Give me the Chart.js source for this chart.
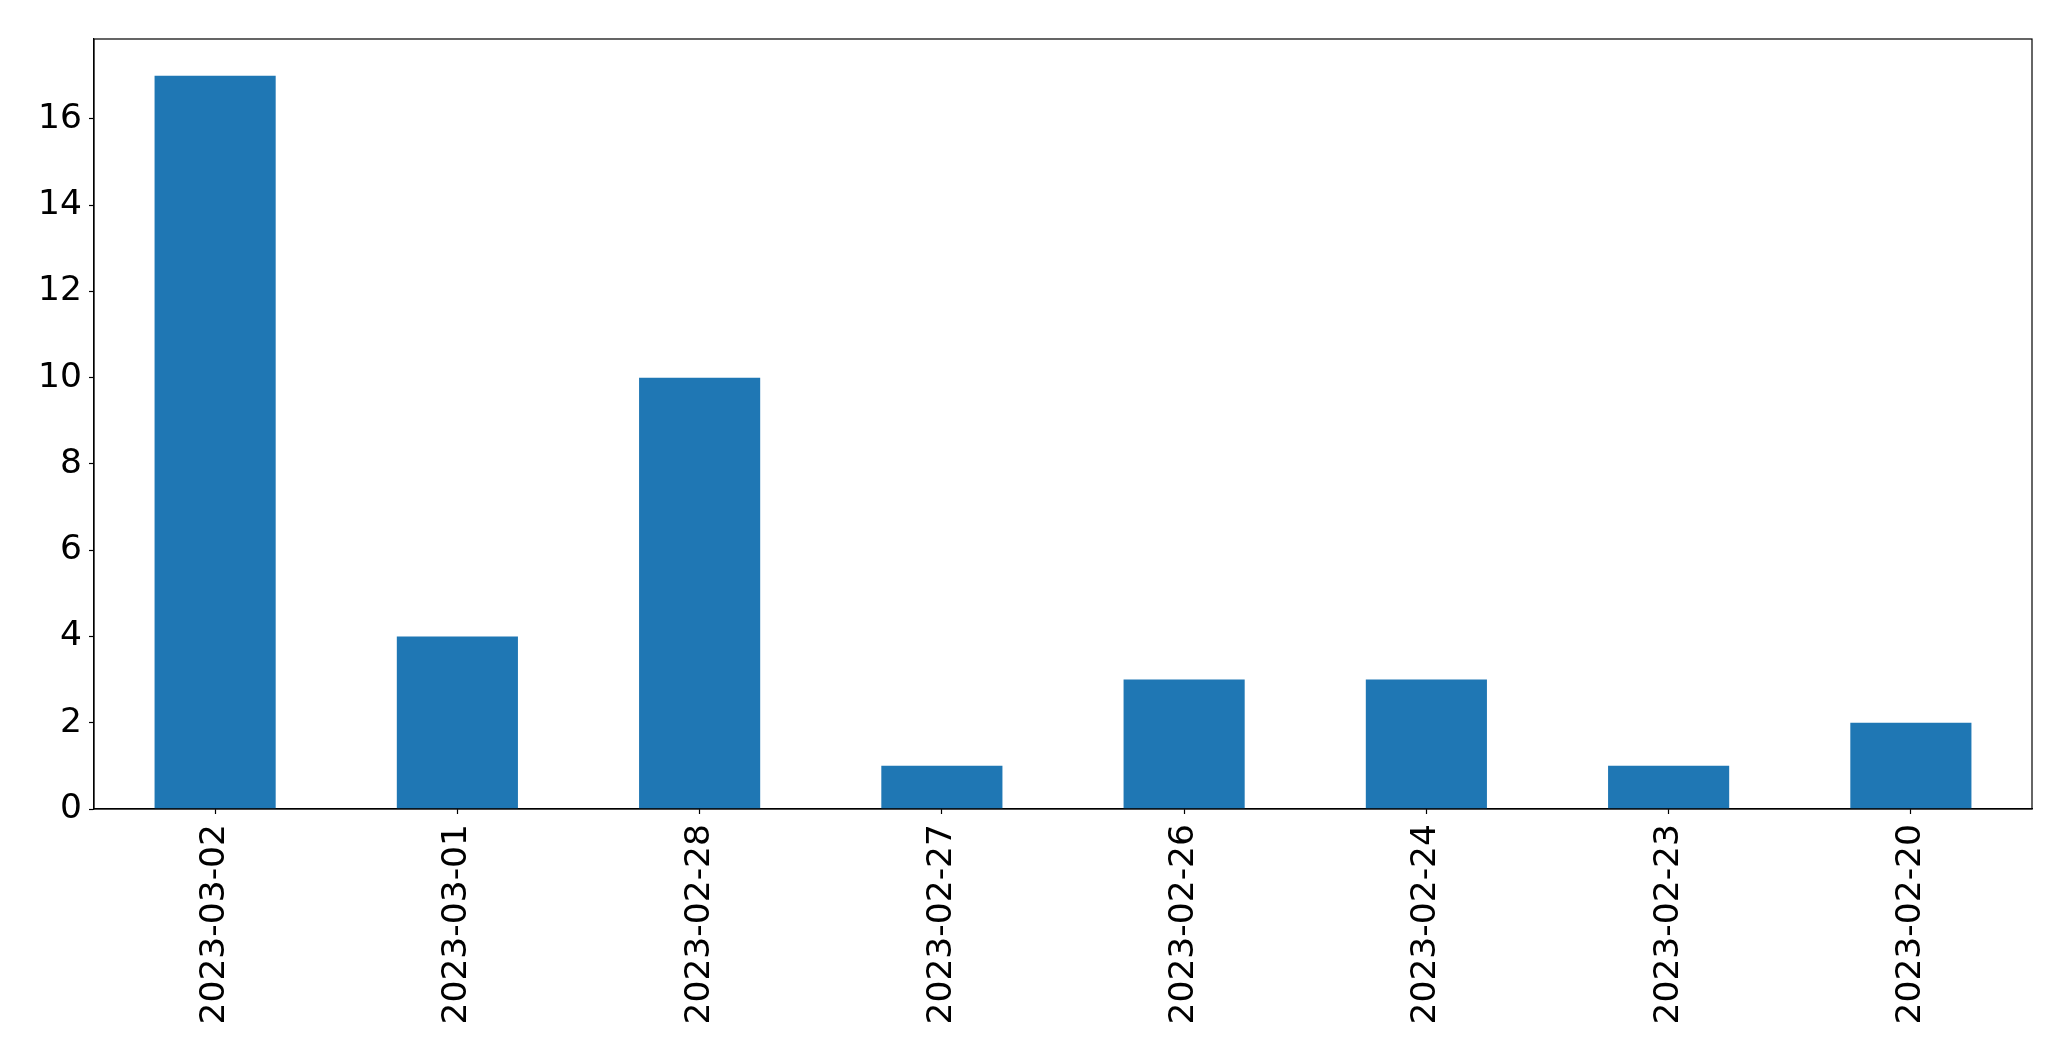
<!DOCTYPE html>
<html>
<head>
<meta charset="utf-8">
<script src="https://cdn.jsdelivr.net/npm/chart.js@4.4.0/dist/chart.umd.min.js"></script>
<style>
  html, body { margin: 0; padding: 0; background: #fff; }
  canvas { display: block; }
</style>
</head>
<body>
<canvas id="chart" width="2071" height="1061"></canvas>
<script>
// data
const dates = ["2023-03-02", "2023-03-01", "2023-02-28", "2023-02-27", "2023-02-26", "2023-02-24", "2023-02-23", "2023-02-20"];
const counts = [17, 4, 10, 1, 3, 3, 1, 2];
const yTicks = [0, 2, 4, 6, 8, 10, 12, 14, 16];

// frame box around the plot (matplotlib style)
const frame = {
    id: "frame",
    afterDraw(chart) {
        const a = chart.chartArea, ctx = chart.ctx;
        ctx.save();
        ctx.strokeStyle = "#000";
        ctx.lineWidth = 1.2;
        ctx.strokeRect(a.left, a.top, a.right - a.left, a.bottom - a.top);
        ctx.restore();
    }
};

const tickFont = { family: "DejaVu Sans", size: 34.5 };

new Chart(document.getElementById("chart"), {
    type: "bar",
    data: {
        labels: dates,
        datasets: [{
            data: counts,
            backgroundColor: "#1f77b4",
            barPercentage: 0.5,
            categoryPercentage: 1.0
        }]
    },
    options: {
        responsive: false,
        animation: false,
        layout: { padding: { top: 39, right: 39, left: 0, bottom: 0 } },
        plugins: { legend: { display: false }, tooltip: { enabled: false } },
        scales: {
            x: {
                offset: true,
                grid: { display: true, offset: false, drawOnChartArea: false, tickLength: 5, tickColor: "#000", tickWidth: 1.2 },
                border: { display: true, color: "#000", width: 1.2 },
                ticks: { color: "#000", font: tickFont, minRotation: 90, maxRotation: 90, padding: 10, autoSkip: false },
                afterFit(scale) { scale.height = 252; }
            },
            y: {
                min: 0,
                max: 17.85,
                grid: { display: true, drawOnChartArea: false, tickLength: 5, tickColor: "#000", tickWidth: 1.2 },
                border: { display: true, color: "#000", width: 1.2 },
                ticks: { color: "#000", font: tickFont, padding: 7 },
                afterBuildTicks(scale) { scale.ticks = yTicks.map(v => ({ value: v })); },
                afterFit(scale) { scale.width = 94; }
            }
        }
    },
    plugins: [frame]
});
</script>
</body>
</html>
